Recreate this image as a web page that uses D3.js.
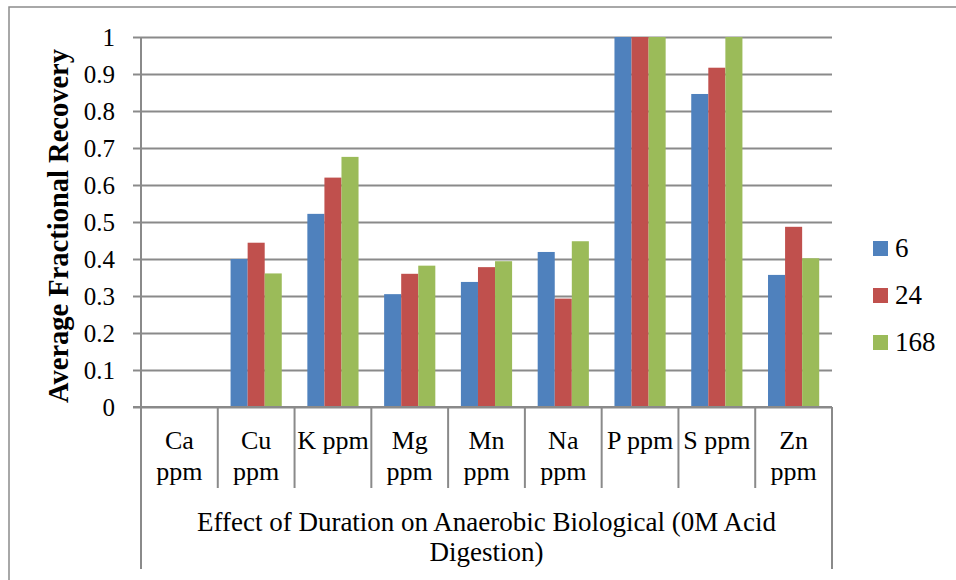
<!DOCTYPE html>
<html>
<head>
<meta charset="utf-8">
<script src="https://cdn.jsdelivr.net/npm/d3@7"></script>
<style>
  html, body { margin: 0; padding: 0; background: #fff; }
  svg { display: block; }
  text { font-family: "Liberation Serif", "Times New Roman", serif; fill: #000; }
</style>
</head>
<body>
<svg id="chart" width="956" height="580"></svg>
<script>
// ---- data ----
const categories = ["Ca ppm", "Cu ppm", "K ppm", "Mg ppm", "Mn ppm", "Na ppm", "P ppm", "S ppm", "Zn ppm"];
const categoryLines = [["Ca", "ppm"], ["Cu", "ppm"], ["K ppm"], ["Mg", "ppm"], ["Mn", "ppm"], ["Na", "ppm"], ["P ppm"], ["S ppm"], ["Zn", "ppm"]];
const seriesNames = ["6", "24", "168"];
const values6   = [0, 0.400, 0.522, 0.305, 0.338, 0.419, 1.000, 0.846, 0.357];
const values24  = [0, 0.444, 0.620, 0.360, 0.378, 0.293, 1.000, 0.917, 0.487];
const values168 = [0, 0.361, 0.676, 0.382, 0.394, 0.448, 1.000, 1.000, 0.402];
const yTicks = [0, 0.1, 0.2, 0.3, 0.4, 0.5, 0.6, 0.7, 0.8, 0.9, 1];
const yTitle = "Average Fractional Recovery";
const xTitleLines = ["Effect of Duration on Anaerobic Biological (0M Acid", "Digestion)"];
const colors = ["#4F81BD", "#C0504D", "#9BBB59"];

const seriesValues = [values6, values24, values168];
const data = categories.map((c, i) => ({
  cat: c,
  vals: seriesNames.map((s, j) => ({ key: s, value: seriesValues[j][i] }))
}));

// ---- layout ----
const svg = d3.select("#chart");
const plotL = 141, plotR = 832, plotT = 37, plotB = 407;
const gridColor = "#8a8a8a";

// outer border (extends past the viewport on right/bottom)
svg.append("rect")
  .attr("x", 9).attr("y", 7).attr("width", 1000).attr("height", 620)
  .attr("fill", "none").attr("stroke", "#8c8c8c").attr("stroke-width", 1.5);

const x0 = d3.scaleBand().domain(categories).range([plotL, plotR]).paddingInner(0).paddingOuter(0);
const bw = x0.bandwidth();
const x1 = d3.scaleBand().domain(seriesNames).range([bw / 6, bw * 5 / 6]).padding(0);
const y = d3.scaleLinear().domain([0, 1]).range([plotB, plotT]);
const color = d3.scaleOrdinal().domain(seriesNames).range(colors);

// gridlines + y axis
const yAxis = d3.axisLeft(y).tickValues(yTicks).tickSize(-(plotR - plotL)).tickSizeOuter(0)
  .tickFormat(d => d3.format("")(+d.toFixed(1)));
const gy = svg.append("g").attr("transform", `translate(${plotL},0)`).call(yAxis);
gy.select(".domain").remove();
gy.selectAll(".tick line").attr("stroke", gridColor).attr("stroke-width", 2);
gy.selectAll(".tick").append("line")
  .attr("x1", -8).attr("x2", 0).attr("stroke", gridColor).attr("stroke-width", 2);
gy.selectAll(".tick text")
  .attr("x", -26).attr("dy", "0.34em")
  .style("font-size", "25px").style("font-family", "'Liberation Serif', serif").attr("fill", "#000");

// bars
const groups = svg.append("g").selectAll("g").data(data).join("g")
  .attr("transform", d => `translate(${x0(d.cat)},0)`);
groups.selectAll("rect").data(d => d.vals).join("rect")
  .attr("x", d => x1(d.key))
  .attr("width", x1.bandwidth())
  .attr("y", d => y(d.value))
  .attr("height", d => y(0) - y(d.value))
  .attr("fill", d => color(d.key));

// vertical axis line
svg.append("line").attr("x1", plotL).attr("x2", plotL).attr("y1", plotT).attr("y2", plotB)
  .attr("stroke", gridColor).attr("stroke-width", 2);
// x axis line
svg.append("line").attr("x1", plotL - 8).attr("x2", plotR).attr("y1", plotB).attr("y2", plotB)
  .attr("stroke", gridColor).attr("stroke-width", 2);

// category separators
const bounds = categories.map(c => x0(c)).concat([plotR]);
svg.append("g").selectAll("line").data(bounds).join("line")
  .attr("x1", d => d).attr("x2", d => d)
  .attr("y1", plotB)
  .attr("y2", (d, i) => (i === 0 || i === bounds.length - 1) ? 569 : 488)
  .attr("stroke", gridColor).attr("stroke-width", 2);

// category labels
const catG = svg.append("g").selectAll("text").data(categories).join("text")
  .attr("text-anchor", "middle")
  .style("font-size", "26px");
catG.each(function(c, i) {
  const t = d3.select(this);
  categoryLines[i].forEach((ln, k) => {
    t.append("tspan").attr("x", x0(c) + bw / 2).attr("y", 449 + k * 31).text(ln);
  });
});

// x title
svg.append("g").selectAll("text").data(xTitleLines).join("text")
  .attr("x", (plotL + plotR) / 2)
  .attr("y", (d, i) => 531 + i * 30)
  .attr("text-anchor", "middle")
  .style("font-size", "27px")
  .text(d => d);

// y title
svg.append("text")
  .attr("transform", "translate(68,226) rotate(-90)")
  .attr("text-anchor", "middle")
  .style("font-size", "28.5px").style("font-weight", "bold")
  .text(yTitle);

// legend
const lg = svg.append("g").selectAll("g").data(seriesNames).join("g")
  .attr("transform", (d, i) => `translate(873,${241 + i * 47})`);
lg.append("rect").attr("width", 15).attr("height", 15).attr("fill", d => color(d));
lg.append("text").attr("x", 22).attr("y", 16).style("font-size", "27px").text(d => d);
</script>
</body>
</html>
